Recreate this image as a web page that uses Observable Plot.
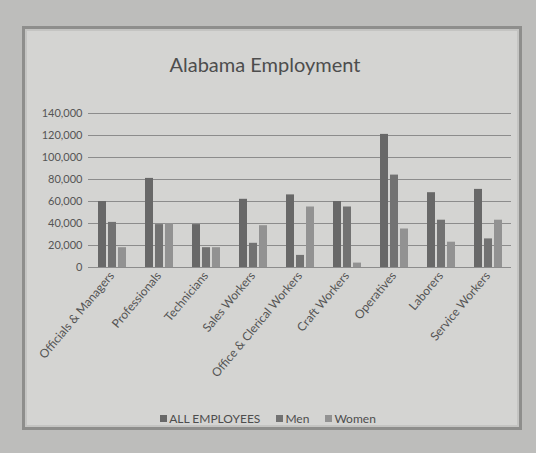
<!DOCTYPE html>
<html>
<head>
<meta charset="utf-8">
<script src="https://cdn.jsdelivr.net/npm/d3@7"></script>
<script src="https://cdn.jsdelivr.net/npm/@observablehq/plot@0.6"></script>
<style>
  body { margin: 0; width: 536px; height: 453px; overflow: hidden; background: #bdbdbb; font-family: Lato, "Open Sans", sans-serif; position: relative; }
  #frame { position: absolute; left: 22px; top: 26px; width: 494px; height: 398px; background: #d4d4d2; border: 3px solid #8e8e8c; box-shadow: inset 0 0 0 2px #c4c4c2; }
  #title { position: absolute; left: 0; top: 52px; width: 530px; text-align: center; font-size: 20px; color: #4d4d4d; }
  #chart { position: absolute; left: 0; top: 90px; }
  #legend { position: absolute; left: 0; top: 411px; width: 536px; display: flex; justify-content: center; gap: 16px; font-size: 12px; color: #4d4d4d; }
  #legend span { display: inline-flex; align-items: center; gap: 2px; }
  #legend i { display: inline-block; width: 7px; height: 7px; }
</style>
</head>
<body>
<div id="frame"></div>
<div id="title">Alabama Employment</div>
<div id="chart"></div>
<div id="legend"></div>
<script>
const categories = ["Officials & Managers", "Professionals", "Technicians", "Sales Workers", "Office & Clerical Workers", "Craft Workers", "Operatives", "Laborers", "Service Workers"];
const series = ["ALL EMPLOYEES", "Men", "Women"];
const allEmployees = [60000, 81000, 39000, 62000, 66000, 60000, 121000, 68000, 71000];
const men = [41000, 39000, 18000, 22000, 11000, 55000, 84000, 43000, 26000];
const women = [18000, 40000, 18000, 38000, 55000, 4000, 35000, 23000, 43000];
const yTicks = [0, 20000, 40000, 60000, 80000, 100000, 120000, 140000];
const colors = ["#686868", "#727272", "#929292"];

const valuesBySeries = [allEmployees, men, women];
const rows = [];
categories.forEach((c, i) => {
  series.forEach((s, j) => rows.push({category: c, series: s, value: valuesBySeries[j][i]}));
});

const chart = Plot.plot({
  width: 536,
  height: 300,
  marginTop: 23,
  marginBottom: 123,
  marginLeft: 84,
  marginRight: 22,
  style: {background: "transparent", fontFamily: "Lato, 'Open Sans', sans-serif", fontSize: "11px", color: "#555"},
  fx: {domain: categories, padding: 0, label: null},
  x: {domain: series, axis: null, paddingInner: 0.22, paddingOuter: 0.85},
  y: {domain: [0, 140000], label: null},
  color: {domain: series, range: colors},
  marks: [
    Plot.gridY(yTicks, {stroke: "#8c8c8c", strokeOpacity: 1, strokeWidth: 1}),
    Plot.axisY(yTicks, {tickSize: 0, tickPadding: 6, tickFormat: d3.format(","), label: null, fontSize: 11}),
    Plot.axisFx({anchor: "bottom", tickRotate: -50, tickSize: 0, tickPadding: 6, label: null, fontSize: 12}),
    Plot.barY(rows, {fx: "category", x: "series", y: "value", fill: "series"})
  ]
});
document.getElementById("chart").appendChild(chart);

const legend = document.getElementById("legend");
series.forEach((s, j) => {
  const span = document.createElement("span");
  const sw = document.createElement("i");
  sw.style.background = colors[j];
  span.appendChild(sw);
  span.appendChild(document.createTextNode(s));
  legend.appendChild(span);
});
</script>
</body>
</html>
